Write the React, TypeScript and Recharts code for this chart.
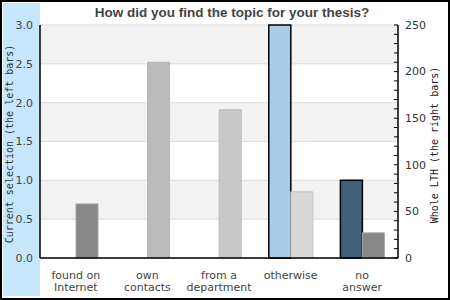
import { BarChart, Bar, XAxis, YAxis, CartesianGrid, Cell } from "recharts";

// answers, current selection (left axis) vs whole LTH (right axis)
const categories = ["found on\nInternet", "own\ncontacts", "from a\ndepartment", "otherwise", "no\nanswer"];
const currentSelection = [0, 0, 0, 3, 1];
const wholeLth = [58, 210, 159, 71, 27];

const leftTicks = [0, 0.5, 1, 1.5, 2, 2.5, 3];
const rightTicks = [0, 10, 20, 30, 40, 50, 60, 70, 80, 90, 100, 110, 120, 130, 140, 150, 160, 170, 180, 190, 200, 210, 220, 230, 240, 250];
const rightLabels = [0, 50, 100, 150, 200, 250];

// colours per bar
const leftFill = ["#a9cde9", "#a9cde9", "#a9cde9", "#a9cde9", "#3f5f7a"];
const rightFill = ["#888888", "#bbbbbb", "#c8c8c8", "#d8d8d8", "#888888"];
const rightStroke = ["#a8a8a8", "#b4b4b4", "#bababa", "#c0c0c0", "#a8a8a8"];

const data = categories.map((c, i) => ({
  name: c,
  current: currentSelection[i],
  whole: wholeLth[i],
}));

const FONT = "'DejaVu Sans', sans-serif";
const MONO = "'DejaVu Sans Mono', monospace";

function LeftTick(props: any) {
  const { x, y, payload } = props;
  return (
    <text x={x - 7} y={y} dy="0.35em" textAnchor="end" fontFamily={FONT} fontSize={11} fill="#444">
      {Number(payload.value).toFixed(1)}
    </text>
  );
}

function RightTick(props: any) {
  const { x, y, payload } = props;
  const showLabel = rightLabels.includes(payload.value);
  return (
    <g>
      <line x1={x - 4} x2={x} y1={y} y2={y} stroke="#000" strokeWidth={1} />
      {showLabel && (
        <text x={x + 7} y={y} dy="0.35em" textAnchor="start" fontFamily={FONT} fontSize={11} fill="#333">
          {payload.value}
        </text>
      )}
    </g>
  );
}

function CatTick(props: any) {
  const { x, y, payload } = props;
  const lines = String(payload.value).split("\n");
  return (
    <text x={x} y={y} textAnchor="middle" fontFamily={FONT} fontSize={11} fill="#444">
      {lines.map((l, i) => (
        <tspan key={i} x={x} y={y + 12.5 + i * 12}>
          {l}
        </tspan>
      ))}
    </text>
  );
}

export default function App() {
  return (
    <div
      style={{
        position: "absolute",
        left: 0,
        top: 0,
        width: 450,
        height: 300,
        boxSizing: "border-box",
        border: "2px solid #000",
        background: "#fff",
        overflow: "hidden",
      }}
    >
      <div style={{ position: "absolute", left: 1, top: 1, width: 37, height: 293, background: "#c6e6fb" }} />
      <div style={{ position: "absolute", left: -2, top: -2 }}>
        <BarChart
          width={450}
          height={300}
          data={data}
          margin={{ top: 25, right: 0, bottom: 0, left: 0 }}
          barSize={22}
          barGap={0}
        >
          <CartesianGrid
            vertical={false}
            stroke="#dddddd"
            yAxisId="left"
            horizontalFill={["#f2f2f2", "#ffffff"]}
          />
          <XAxis
            dataKey="name"
            height={42}
            axisLine={{ stroke: "#000", strokeWidth: 1.5 }}
            tickLine={false}
            tick={<CatTick />}
            interval={0}
          />
          <YAxis
            yAxisId="left"
            width={40}
            domain={[0, 3]}
            ticks={leftTicks}
            axisLine={{ stroke: "#000", strokeWidth: 1.5 }}
            tickLine={false}
            tickSize={0}
            tickMargin={0}
            tick={<LeftTick />}
            interval={0}
          />
          <YAxis
            yAxisId="right"
            orientation="right"
            width={52}
            domain={[0, 250]}
            ticks={rightTicks}
            axisLine={{ stroke: "#000", strokeWidth: 1.5 }}
            tickLine={false}
            tickSize={0}
            tickMargin={0}
            tick={<RightTick />}
            interval={0}
          />
          <Bar yAxisId="left" dataKey="current" isAnimationActive={false} stroke="#000" strokeWidth={1.5}>
            {data.map((_, i) => (
              <Cell key={i} fill={leftFill[i]} />
            ))}
          </Bar>
          <Bar yAxisId="right" dataKey="whole" isAnimationActive={false} strokeWidth={1}>
            {data.map((_, i) => (
              <Cell key={i} fill={rightFill[i]} stroke={rightStroke[i]} />
            ))}
          </Bar>
        </BarChart>
      </div>
      <svg
        width={450}
        height={300}
        style={{ position: "absolute", left: -2, top: -2, pointerEvents: "none" }}
      >
        <text
          x={232}
          y={17}
          textAnchor="middle"
          fontFamily="'Liberation Sans', Arial, sans-serif"
          fontWeight="bold"
          fontSize={13.5}
          fill="#444"
        >
          How did you find the topic for your thesis?
        </text>
        <text
          x={0}
          y={0}
          transform="translate(13,144) rotate(-90)"
          textAnchor="middle"
          fontFamily={MONO}
          fontSize={10}
          fill="#333"
        >
          Current selection (the left bars)
        </text>
        <text
          x={0}
          y={0}
          transform="translate(438,145) rotate(-90)"
          textAnchor="middle"
          fontFamily={MONO}
          fontSize={10}
          fill="#222"
        >
          Whole LTH (the right bars)
        </text>
      </svg>
    </div>
  );
}
